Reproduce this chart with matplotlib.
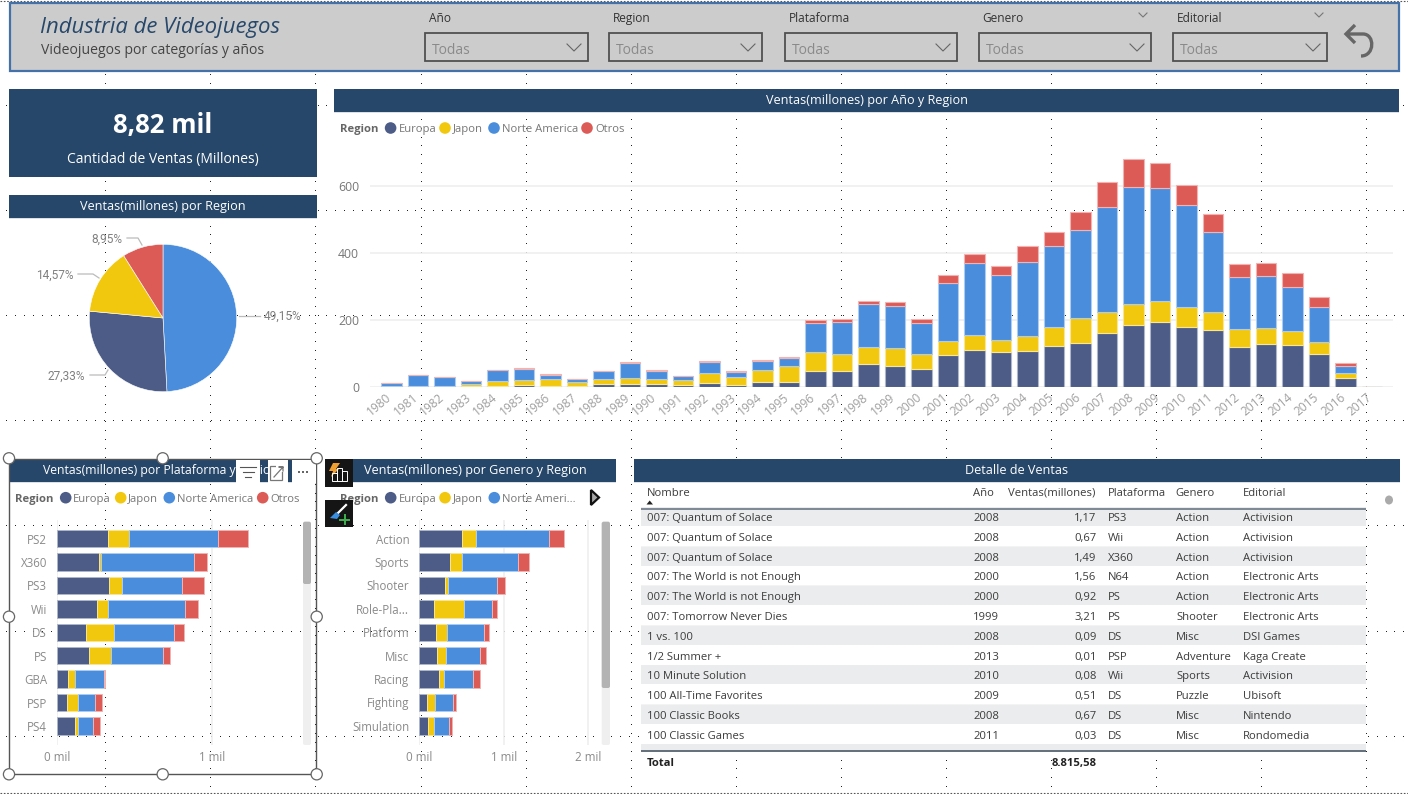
import numpy as np
import matplotlib
matplotlib.use("Agg")
import matplotlib.pyplot as plt
from matplotlib.patches import Rectangle, Circle, PathPatch, Polygon, FancyBboxPatch, Ellipse
from matplotlib.path import Path
from matplotlib.lines import Line2D
from matplotlib.transforms import ScaledTranslation

plt.rcParams['font.family'] = ['Open Sans', 'DejaVu Sans']

W, H = 1408, 794
NAVY = '#264769'
C_EU, C_JP, C_NA, C_OT = '#4C5C87', '#F2C80F', '#4A8DDC', '#DD5B57'
REGIONS = ['Europa', 'Japon', 'Norte America', 'Otros']
COLORS = [C_EU, C_JP, C_NA, C_OT]
VC = 'center_baseline'

# ---------- data ----------
years = list(range(1980, 2018))
eu_y = [0.7, 2, 1.7, 0.8, 2.1, 4.7, 2.8, 1.4, 6.6, 8.4, 7.6, 4, 11.7, 4.7, 14.9, 14.9, 47, 48, 67, 63, 53,
        95, 109, 104, 107, 122, 130, 161, 185, 193, 178, 168, 119, 126, 125, 97.5, 27, 0]
jp_y = [0, 0, 0, 8, 14, 15, 20, 12, 16, 18, 15, 15, 29, 25, 34, 46, 57, 49, 51, 53, 44,
        41, 44, 35, 43, 55, 74, 61, 61, 62, 60, 54, 53, 48, 41, 35, 14, 0]
na_y = [10.6, 33, 27, 8, 33, 34, 12.5, 8.5, 24, 45, 25, 13, 34, 15, 28, 25, 87, 95, 128, 126, 94,
        173, 215, 193, 223, 244, 264, 313, 351, 339, 303, 241, 154, 155, 132, 104, 22, 0]
ot_y = [0.1, 0.3, 0.3, 0.1, 0.7, 0.9, 1.9, 0.2, 1, 1.5, 1.4, 0.7, 1.7, 0.9, 2.2, 2.6, 8, 9, 11, 11, 11,
        24, 28, 27, 47, 40, 53, 77, 83, 75, 61, 54, 39, 40, 40, 30, 9, 0]

pie_order = ['Norte America', 'Europa', 'Japon', 'Otros']
pie_values = [49.15, 27.33, 14.57, 8.95]
pie_texts = ['49,15%', '27,33%', '14,57%', '8,95%']

platforms = ['PS2', 'X360', 'PS3', 'Wii', 'DS', 'PS', 'GBA', 'PSP', 'PS4']
eu_p = [330, 274, 338, 259, 191, 208, 71, 64, 120]
jp_p = [137, 13, 79, 71, 176, 141, 47, 75, 17]
na_p = [572, 593, 388, 497, 388, 336, 186, 109, 94]
ot_p = [190, 86, 141, 79, 62, 41, 6, 41, 45]

genres = ['Action', 'Sports', 'Shooter', 'Role-Pla...', 'Platform', 'Misc', 'Racing', 'Fighting', 'Simulation']
eu_g = [512, 366, 307, 181, 197, 209, 232, 98, 110]
jp_g = [161, 138, 39, 350, 134, 110, 59, 87, 63]
na_g = [862, 669, 575, 327, 441, 398, 350, 220, 185]
ot_g = [181, 130, 98, 63, 55, 75, 83, 35, 28]

table_cols = ['Nombre', 'Año', 'Ventas(millones)', 'Plataforma', 'Genero', 'Editorial']
t_name = ['007: Quantum of Solace', '007: Quantum of Solace', '007: Quantum of Solace',
          '007: The World is not Enough', '007: The World is not Enough', '007: Tomorrow Never Dies',
          '1 vs. 100', '1/2 Summer +', '10 Minute Solution', '100 All-Time Favorites',
          '100 Classic Books', '100 Classic Games']
t_year = ['2008', '2008', '2008', '2000', '2000', '1999', '2008', '2013', '2010', '2009', '2008', '2011']
t_sales = ['1,17', '0,67', '1,49', '1,56', '0,92', '3,21', '0,09', '0,01', '0,08', '0,51', '0,67', '0,03']
t_plat = ['PS3', 'Wii', 'X360', 'N64', 'PS', 'PS', 'DS', 'PSP', 'Wii', 'DS', 'DS', 'DS']
t_genre = ['Action', 'Action', 'Action', 'Action', 'Action', 'Shooter', 'Misc', 'Adventure', 'Sports',
           'Puzzle', 'Misc', 'Misc']
t_pub = ['Activision', 'Activision', 'Activision', 'Electronic Arts', 'Electronic Arts', 'Electronic Arts',
         'DSI Games', 'Kaga Create', 'Activision', 'Ubisoft', 'Nintendo', 'Rondomedia']
t_total = '8.815,58'

slicers = ['Año', 'Region', 'Plataforma', 'Genero', 'Editorial']
slicer_value = 'Todas'

# ---------- canvas ----------
fig = plt.figure(figsize=(W / 100, H / 100), dpi=100, facecolor='white')


def px_axes(x0, y0, x1, y1, z=2):
    a = fig.add_axes([x0 / W, 1 - y1 / H, (x1 - x0) / W, (y1 - y0) / H], zorder=z)
    a.set_facecolor('none')
    return a


bg = px_axes(0, 0, W, H, z=0)
bg.set_xlim(0, W); bg.set_ylim(H, 0); bg.axis('off')
top = px_axes(0, 0, W, H, z=10)
top.set_xlim(0, W); top.set_ylim(H, 0); top.axis('off')

# snap-grid dots of the report canvas (one pixel each)
vx = 105.3 + 105.07 * np.arange(13)
hy = 106 + 105.1 * np.arange(7)
for x in vx:
    ys = np.arange(4, 792, 8.9)
    bg.plot(np.full_like(ys, x), ys, ls='none', marker=',', color='#222222', zorder=1)
for y in hy:
    xs = np.arange(6, 1404, 8.9)
    bg.plot(xs, np.full_like(xs, y), ls='none', marker=',', color='#222222', zorder=1)
bg.set_xlim(0, W); bg.set_ylim(H, 0)
for y in (0.8, 793):
    bg.add_line(Line2D([0, W], [y, y], color='#555555', lw=0.8, ls=(0, (1.5, 1.5)), zorder=1))


def rect(ax, x0, y0, x1, y1, fc, ec='none', lw=0, z=2):
    p = Rectangle((x0, y0), x1 - x0, y1 - y0, facecolor=fc, edgecolor=ec, linewidth=lw, zorder=z)
    ax.add_patch(p)
    return p


def header(ax, x0, x1, y0, y1, s, cx=None, ha='center', z=3, fs=9.1):
    rect(ax, x0, y0, x1, y1, NAVY, z=z)
    rect(ax, x0, y1, x1, y1 + 1, '#D9E0EA', z=z)
    ax.text((x0 + x1) / 2 if cx is None else cx, (y0 + y1) / 2 - 1.5, s, color='white', fontsize=fs,
            ha=ha, va=VC, zorder=z + 1)


# ---------- banner ----------
rect(bg, 9.5, 3, 1399, 70.5, '#CCCCCC', ec='#4472A8', lw=1.6, z=2)
bg.text(40, 24.5, 'Industria de Videojuegos', fontsize=15.9, style='italic', color='#27486B',
        ha='left', va=VC, zorder=3)
bg.text(41, 49, 'Videojuegos por categorías y años', fontsize=10.1, color='#444444', ha='left', va=VC, zorder=3)
box_x = [(425, 588), (609, 762), (785, 957), (979, 1151), (1173, 1327)]
label_x = [429, 613, 788.4, 982, 1176.4]
for s, (a, b), lx in zip(slicers, box_x, label_x):
    bg.text(lx, 16.7, s, fontsize=8.6, color='#333333', ha='left', va=VC, zorder=3)
    rect(bg, a, 32.5, b, 61, 'none', ec='#505050', lw=1.3, z=3)
    bg.text(a + 7, 48.5, slicer_value, fontsize=10, color='#8A8A8A', ha='left', va=VC, zorder=3)
    c = b - 14
    bg.add_line(Line2D([c - 7, c, c + 7], [44, 51, 44], color='#666666', lw=0.8, zorder=3))
for c in (1143, 1319):
    bg.add_line(Line2D([c - 4, c, c + 4], [13, 17, 13], color='#777777', lw=0.8, zorder=3))
undo = Path([(1355, 25), (1346, 34), (1355, 43), (1346, 34), (1363, 34), (1375, 34), (1375, 56), (1361, 56)],
            [Path.MOVETO, Path.LINETO, Path.LINETO, Path.MOVETO, Path.LINETO, Path.CURVE4, Path.CURVE4, Path.CURVE4])
bg.add_patch(PathPatch(undo, fc='none', ec='#666666', lw=2.4, zorder=3, capstyle='butt'))

# ---------- KPI ----------
rect(bg, 9, 89, 317, 176.7, NAVY)
bg.text(163, 123, '8,82 mil', color='white', fontsize=18.5, fontweight='bold', ha='center', va=VC, zorder=3)
bg.text(163, 158, 'Cantidad de Ventas (Millones)', color='white', fontsize=10, ha='center', va=VC, zorder=3)

# ---------- headers ----------
header(bg, 9, 317, 195, 218, 'Ventas(millones) por Region')
header(bg, 334, 1399, 89, 112, 'Ventas(millones) por Año y Region')
header(bg, 9.5, 316, 459.5, 482, 'Ventas(millones) por Plataforma y Region', cx=43.3, ha='left', fs=8.8)
header(bg, 334, 616, 459, 482, 'Ventas(millones) por Genero y Region')
header(bg, 634, 1400, 459, 482, 'Detalle de Ventas')


def legend(ax, y, rx, items, z=3):
    ax.text(rx, y, 'Region', fontsize=8.1, fontweight='bold', color='#666666', ha='left', va=VC, zorder=z)
    for name, color, cx, tx in items:
        ax.add_patch(Circle((cx, y), 5.8, fc=color, ec='none', zorder=z))
        ax.text(tx, y, name, fontsize=8.1, color='#777777', ha='left', va=VC, zorder=z)


legend(bg, 128, 340, [('Europa', C_EU, 390.6, 398.7), ('Japon', C_JP, 445, 452.6),
                      ('Norte America', C_NA, 494, 502), ('Otros', C_OT, 587, 595)])
legend(bg, 497.7, 15, [('Europa', C_EU, 65.7, 73.3), ('Japon', C_JP, 120.7, 127.7),
                       ('Norte America', C_NA, 169.3, 177.3), ('Otros', C_OT, 262.7, 270)])
legend(bg, 497.7, 340, [('Europa', C_EU, 390.7, 398.7), ('Japon', C_JP, 445, 452.7),
                        ('Norte Ameri...', C_NA, 494.3, 502.3)])


def light(c, t=0.55):
    rgb = np.array(matplotlib.colors.to_rgb(c))
    return tuple(rgb + (1 - rgb) * t)


# ---------- stacked columns ----------
X0, X1, YB, YT = 370, 1393, 386.7, 130
STEP = 26.5
PXU = 201 / 600
ax = px_axes(X0, YT, X1, YB)
ax.set_xlim(-(391.5 - X0) / STEP, (X1 - 391.5) / STEP)
ax.set_ylim(0, (YB - YT) / PXU)
pos = np.arange(len(years))
base = np.zeros(len(years))
for vals, c in zip([eu_y, jp_y, na_y, ot_y], COLORS):
    v = np.array(vals, float)
    ax.bar(pos, v, bottom=base, width=0.79, color=c, edgecolor=light(c), linewidth=0.8, zorder=3)
    base += v
ax.set_yticks([0, 200, 400, 600])
ax.set_xticks(pos)
ax.set_xticklabels([str(y) for y in years], rotation=40, ha='right', va='top', rotation_mode='anchor',
                   fontsize=8.6, color='#9E9E9E')
ax.tick_params(axis='both', length=0)
ax.tick_params(axis='y', pad=8, labelsize=8.8, labelcolor='#777777')
ax.tick_params(axis='x', pad=3)
shift = ScaledTranslation(-6 / 100, 0, fig.dpi_scale_trans)
for lab in ax.get_xticklabels():
    lab.set_transform(lab.get_transform() + shift)
ax.grid(axis='y', color='#EFEFEF', lw=1.2)
ax.set_axisbelow(True)
for s in ax.spines.values():
    s.set_visible(False)

# ---------- pie ----------
R = 73.7
CX, CY = 163, 318
m = 1.02
pa = px_axes(CX - R * m, CY - R * m, CX + R * m, CY + R * m)
pa.set_aspect('equal')
pie_colors = [C_NA, C_EU, C_JP, C_OT]
pa.pie(pie_values, colors=pie_colors, startangle=90, counterclock=False, radius=1,
       wedgeprops=dict(edgecolor='white', linewidth=0.4))
pa.set_xlim(-m, m); pa.set_ylim(-m, m)
label_font = dict(fontsize=8.6, color='#808080', family=['Roboto'], va=VC, zorder=3)
LEAD = '#BBBBBB'
bg.text(264, 315, pie_texts[0], ha='left', **label_font)
bg.add_line(Line2D([238.7, 260], [316, 316], color=LEAD, lw=0.9, zorder=3))
bg.text(85, 375, pie_texts[1], ha='right', **label_font)
bg.add_line(Line2D([90, 105, 108], [375, 375, 370], color=LEAD, lw=0.9, zorder=3))
bg.text(74, 274, pie_texts[2], ha='right', **label_font)
bg.add_line(Line2D([78, 93, 99], [274, 274, 278], color=LEAD, lw=0.9, zorder=3))
bg.text(122, 238, pie_texts[3], ha='right', **label_font)
bg.add_line(Line2D([127, 138, 142], [238, 238, 245], color=LEAD, lw=0.9, zorder=3))


# ---------- stacked bars ----------
def hbars(x0, x1, pxk, cats, series, xt, xl):
    a = px_axes(x0, 520, x1, 745)
    a.set_xlim(0, (x1 - x0) / pxk * 1000)
    a.set_ylim((745 - 538.7) / 23.4, (520 - 538.7) / 23.4)
    y = np.arange(len(cats))
    left = np.zeros(len(cats))
    for vals, c in zip(series, COLORS):
        v = np.array(vals, float)
        a.barh(y, v, left=left, height=0.75, color=c, edgecolor=light(c), linewidth=0.7, zorder=3)
        left += v
    a.set_yticks(y)
    a.set_yticklabels(cats, fontsize=8.3, color='#8A8A8A')
    a.set_xticks(xt)
    a.set_xticklabels(xl, fontsize=8.4, color='#8A8A8A')
    a.tick_params(axis='both', length=0)
    a.tick_params(axis='y', pad=7)
    a.tick_params(axis='x', pad=4)
    a.grid(axis='x', color='#EFEFEF', lw=1.2)
    a.set_axisbelow(True)
    for s in a.spines.values():
        s.set_visible(False)
    return a


hbars(56.7, 300, 155.7, platforms, [eu_p, jp_p, na_p, ot_p], [0, 1000], ['0 mil', '1 mil'])
hbars(419, 600, 84.65, genres, [eu_g, jp_g, na_g, ot_g], [0, 1000, 2000], ['0 mil', '1 mil', '2 mil'])


def scrollbar(x0, x1, y0, y1, ythumb):
    top.add_patch(FancyBboxPatch((x0 + 2, y0 + 2), x1 - x0 - 4, y1 - y0 - 4,
                  boxstyle='round,pad=2', fc='#EFEFEF', ec='none', zorder=3))
    top.add_patch(FancyBboxPatch((x0 + 2, y0 + 2), x1 - x0 - 4, ythumb - y0 - 4,
                  boxstyle='round,pad=2', fc='#B3B3B3', ec='none', zorder=4))


scrollbar(303, 311, 521.7, 745, 584)
scrollbar(601.7, 610, 521.7, 745, 688)

# ---------- selected visual frame ----------
rect(top, 9.3, 459.3, 316.3, 774.3, 'none', ec='#555555', lw=1.0, z=5)
for x0_, x1_ in [(236, 260), (268, 288), (292, 316)]:
    rect(top, x0_, 460, x1_, 482.5, 'white', z=5)
for i, wl in enumerate((16, 11, 6)):
    top.add_line(Line2D([248 - wl / 2, 248 + wl / 2], [467 + 5 * i] * 2, color='#555555', lw=0.8, zorder=6))
rect(top, 270, 466, 282, 480, 'none', ec='#777777', lw=0.9, z=6)
rect(top, 276, 463, 285, 472, 'white', z=6)
top.add_line(Line2D([274, 283, 279, 283, 283], [477, 467, 467, 467, 471], color='#777777', lw=0.9, zorder=7))
top.scatter([299, 303, 307], [472, 472, 472], s=3, c='#666666', marker='s', linewidths=0, zorder=6)
for hx in (9, 162.7, 316.7):
    for hy_ in (458.3, 616.7, 774.3):
        if hx == 162.7 and hy_ == 616.7:
            continue
        top.add_patch(Circle((hx, hy_), 5.6, fc='white', ec='#666666', lw=0.9, zorder=8))

# on-object buttons
rect(top, 325, 459.3, 353, 486.7, '#151515', z=6)
rect(top, 325, 500, 353, 526.7, '#151515', z=6)
top.add_patch(Polygon([(333, 463), (340, 463), (336, 469), (339, 469), (331, 477), (333, 471), (329, 471)],
                      fc='#F0A030', ec='none', zorder=7))
for bx, bt in ((332, 473), (337, 468), (342, 471)):
    rect(top, bx, bt, bx + 4.5, 481, 'none', ec='white', lw=0.7, z=7)
top.add_line(Line2D([338, 346], [513, 505], color='white', lw=1.6, zorder=7))
top.add_patch(Polygon([(330, 518), (336, 512), (340, 515), (337, 519)], fc='#3A8EE0', ec='none', zorder=7))
top.add_line(Line2D([340, 349], [519.5, 519.5], color='#40B050', lw=1.4, zorder=7))
top.add_line(Line2D([344.5, 344.5], [515, 524], color='#40B050', lw=1.4, zorder=7))
top.add_patch(Polygon([(591, 490), (599, 497.5), (591, 505)], fc='#A8A8A8', ec='#111111', lw=1.6, zorder=7))

# ---------- table ----------
rect(bg, 641, 482.5, 1366, 751, 'white', z=2)
rows_y = [516.7, 536.7, 556.7, 576, 596, 616, 635.7, 655.7, 675, 695, 714.7, 734.7]
FS = 8.1
TC = '#3C3C3C'
hdr_x = [646.4, 973, 1095, 1107.4, 1175.4, 1242.4]
hdr_ha = ['left', 'left', 'right', 'left', 'left', 'left']
for s, x, ha in zip(table_cols, hdr_x, hdr_ha):
    bg.text(x, 491.7, s, fontsize=FS, color=TC, ha=ha, va=VC, zorder=4)
bg.add_patch(Polygon([(646.5, 504.5), (653, 504.5), (649.7, 500.5)], fc='#222222', ec='none', zorder=4))
for i, y in enumerate(rows_y):
    y0 = y - 9.8
    if i % 2 == 0:
        rect(bg, 641, y0, 1366, y0 + 18.6, '#EBECEE', z=3)
    else:
        rect(bg, 641, y0 + 18.6, 1366, y0 + 19.8, '#F3F3F4', z=3)
    bg.text(646.6, y, t_name[i], fontsize=FS, color=TC, ha='left', va=VC, zorder=4)
    bg.text(973.4, y, t_year[i], fontsize=FS, color=TC, ha='left', va=VC, zorder=4)
    bg.text(1096.5, y, t_sales[i], fontsize=FS, color=TC, ha='right', va=VC, zorder=4)
    bg.text(1108, y, t_plat[i], fontsize=FS, color=TC, ha='left', va=VC, zorder=4)
    bg.text(1176, y, t_genre[i], fontsize=FS, color=TC, ha='left', va=VC, zorder=4)
    bg.text(1243, y, t_pub[i], fontsize=FS, color=TC, ha='left', va=VC, zorder=4)
rect(bg, 641, 743.5, 1366, 750, '#EBECEE', z=3)
rect(bg, 641, 508, 1366, 509.8, '#7F8A96', z=4)
rect(bg, 641, 749.8, 1366, 751.6, '#66717E', z=4)
bg.text(646.6, 761.7, 'Total', fontsize=FS, fontweight='bold', color='#222222', ha='left', va=VC, zorder=4)
bg.text(1096.5, 761.7, t_total, fontsize=FS, fontweight='bold', color='#222222', ha='right', va=VC, zorder=4)
bg.add_patch(Ellipse((1389, 500), 8, 9, fc='#AAAAAA', ec='none', zorder=4))

fig.savefig('out.png', dpi=100)
